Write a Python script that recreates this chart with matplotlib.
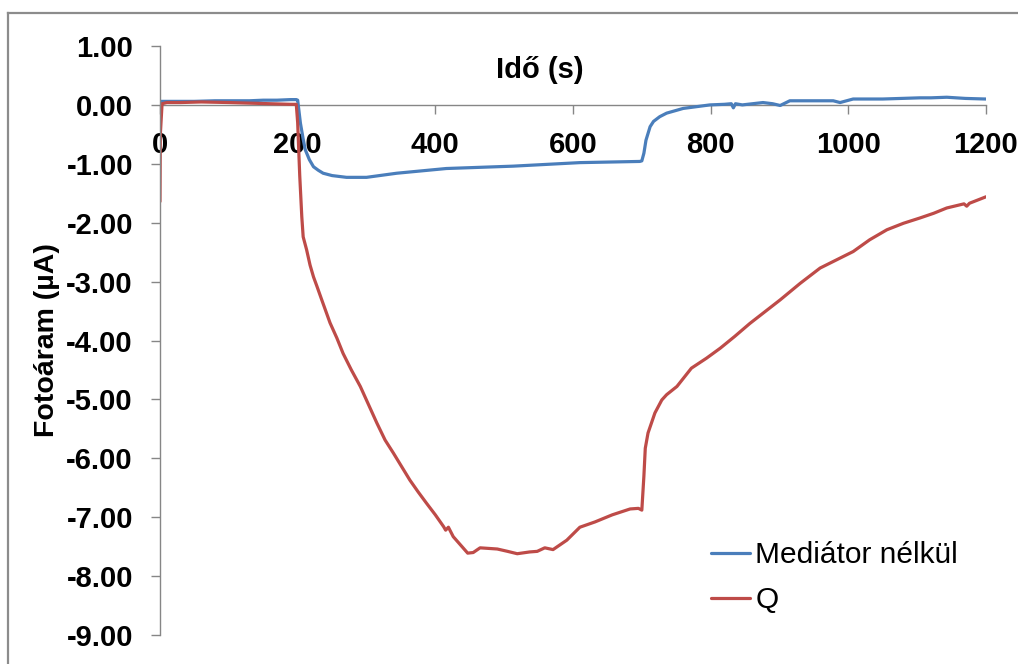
import matplotlib
matplotlib.use("Agg")
import matplotlib.pyplot as plt
from matplotlib.lines import Line2D

# ---- data ----
t_blue = [0, 1, 20, 50, 80, 100, 130, 150, 170, 190, 198, 200, 204, 208, 211, 217,
          223, 230, 237, 250, 271, 300, 344, 416, 513, 610, 697, 700, 703, 706,
          712, 717, 726, 736, 760, 799, 820, 830, 833, 836, 846, 876, 890, 901,
          915, 978, 988, 1007, 1050, 1104, 1120, 1143, 1170, 1199, 1200]
v_blue = [0.05, 0.06, 0.06, 0.06, 0.07, 0.07, 0.07, 0.08, 0.08, 0.09, 0.09, 0.08,
          -0.31, -0.58, -0.76, -0.93, -1.05, -1.11, -1.16, -1.20, -1.23, -1.23,
          -1.16, -1.08, -1.04, -0.98, -0.96, -0.95, -0.82, -0.60, -0.37, -0.28,
          -0.20, -0.14, -0.06, 0.0, 0.01, 0.02, -0.05, 0.02, 0.0, 0.04, 0.02,
          -0.01, 0.07, 0.07, 0.04, 0.10, 0.10, 0.12, 0.12, 0.13, 0.11, 0.10, 0.10]

t_red = [0, 0.5, 3, 10, 30, 60, 100, 130, 160, 190, 198, 200, 203, 206, 208, 213,
         218, 223, 228, 235, 247, 257, 266, 278, 291, 303, 315, 327, 339, 351,
         363, 375, 387, 400, 412, 415, 419, 426, 441, 447, 455, 465, 490, 505,
         519, 537, 548, 559, 571, 591, 610, 632, 657, 683, 695, 700, 703, 705,
         709, 714, 719, 724, 729, 736, 751, 772, 794, 814, 835, 857, 879, 901,
         930, 959, 983, 1007, 1031, 1056, 1080, 1104, 1124, 1143, 1168, 1172,
         1176, 1200]
v_red = [-1.64, -0.5, 0.02, 0.04, 0.04, 0.05, 0.04, 0.03, 0.02, 0.01, 0.01, -0.3,
         -1.2, -1.90, -2.24, -2.46, -2.72, -2.92, -3.08, -3.31, -3.70, -3.96,
         -4.22, -4.50, -4.78, -5.09, -5.40, -5.69, -5.91, -6.14, -6.37, -6.57,
         -6.76, -6.96, -7.16, -7.22, -7.17, -7.33, -7.53, -7.61, -7.60, -7.52,
         -7.54, -7.58, -7.62, -7.59, -7.58, -7.52, -7.55, -7.39, -7.17, -7.08,
         -6.96, -6.86, -6.85, -6.88, -6.3, -5.83, -5.57, -5.40, -5.23, -5.12,
         -5.01, -4.92, -4.78, -4.47, -4.30, -4.13, -3.93, -3.71, -3.51, -3.31,
         -3.03, -2.77, -2.63, -2.49, -2.29, -2.12, -2.01, -1.92, -1.84, -1.75,
         -1.68, -1.72, -1.67, -1.56]

label_blue = "Mediátor nélkül"
label_red = "Q"
x_ticks = [0, 200, 400, 600, 800, 1000, 1200]
y_ticks = [1, 0, -1, -2, -3, -4, -5, -6, -7, -8, -9]
x_title = "Idő (s)"
y_title = "Fotoáram (µA)"

# ---- figure ----
plt.rcParams['font.family'] = ['Liberation Sans', 'DejaVu Sans']
W, H = 1018, 664
fig = plt.figure(figsize=(W / 100, H / 100), dpi=100)
ax = fig.add_axes([160 / W, 1 - 635 / H, (986 - 160) / W, (635 - 46) / H])

blue = '#4A7EBB'
red = '#BE4B48'
grey = '#868686'

ax.plot(t_blue, v_blue, color=blue, lw=2.3, label=label_blue,
        solid_joinstyle='round', solid_capstyle='round')
ax.plot(t_red, v_red, color=red, lw=2.3, label=label_red,
        solid_joinstyle='round', solid_capstyle='round')

ax.set_xlim(0, 1200)
ax.set_ylim(-9, 1)

for s in ['top', 'right']:
    ax.spines[s].set_visible(False)
ax.spines['bottom'].set_position(('data', 0))
ax.spines['bottom'].set_color(grey)
ax.spines['left'].set_color(grey)
ax.spines['bottom'].set_linewidth(1)
ax.spines['left'].set_linewidth(1)
ax.spines['bottom'].set_zorder(1)

ax.set_xticks(x_ticks)
ax.set_xticklabels([str(x) for x in x_ticks])
ax.set_yticks(y_ticks)
ax.set_yticklabels([f"{y:.2f}" for y in y_ticks])

ax.tick_params(axis='x', direction='out', length=6.5, width=1, color=grey,
               labelsize=21, pad=12)
ax.tick_params(axis='y', direction='out', length=6.5, width=1, color=grey,
               labelsize=21, pad=13)
for lab in ax.get_xticklabels() + ax.get_yticklabels():
    lab.set_fontweight('bold')

fig.text(540 / W, 1 - 70 / H, x_title, ha='center', va='center',
         fontsize=21, fontweight='bold')
fig.text(47 / W, 1 - 340 / H, y_title, ha='center', va='center', rotation=90,
         fontsize=20.5, fontweight='bold')

leg = ax.legend(loc='upper left', bbox_to_anchor=(711 / W, 1 - 541 / H),
                bbox_transform=fig.transFigure, frameon=False, fontsize=21.5,
                handlelength=1.3, handletextpad=0.18, labelspacing=0.58,
                borderpad=0, borderaxespad=0)

# outer chart frame (cropped at right and bottom)
fig.add_artist(Line2D([8 / W, 8 / W], [0, 1 - 13 / H], transform=fig.transFigure,
                      color='#8c8c8c', lw=1.6))
fig.add_artist(Line2D([8 / W, 1], [1 - 13 / H, 1 - 13 / H], transform=fig.transFigure,
                      color='#8c8c8c', lw=1.6))

fig.savefig('out.png', dpi=100)
